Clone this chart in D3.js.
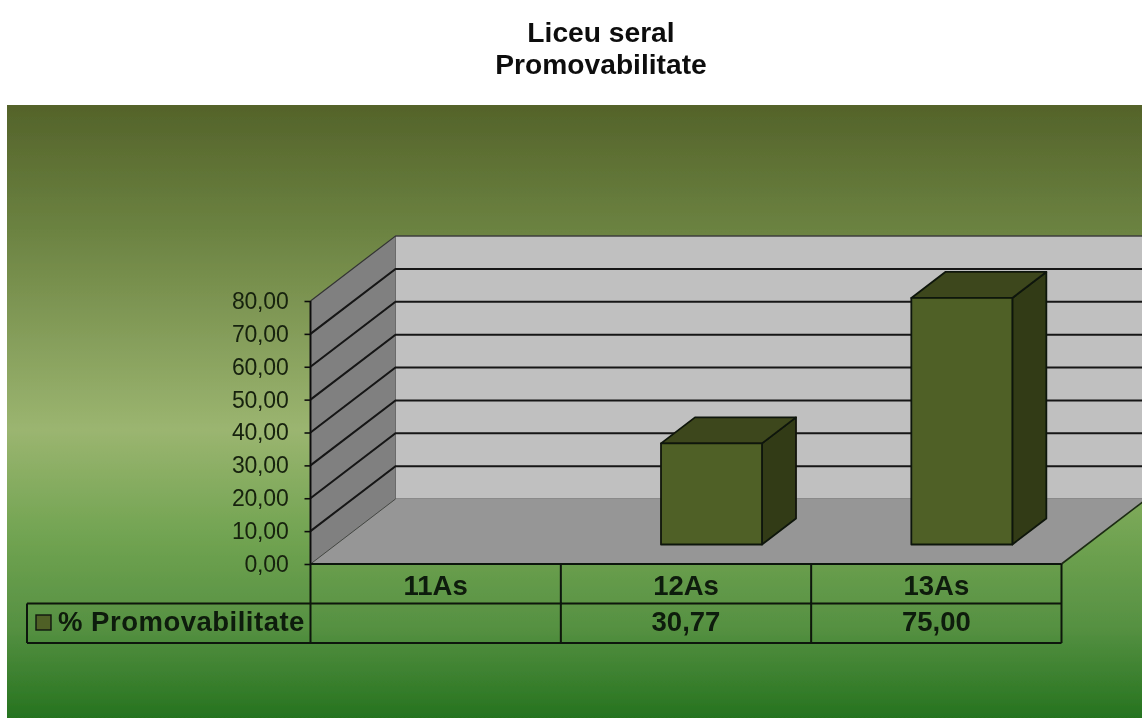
<!DOCTYPE html>
<html>
<head>
<meta charset="utf-8">
<script src="https://cdn.jsdelivr.net/npm/d3@7"></script>
<style>
  html, body { margin: 0; padding: 0; background: #fff; overflow: hidden; }
  svg { display: block; font-family: "Liberation Sans", Arial, sans-serif; }
</style>
</head>
<body>
<svg id="chart" width="1142" height="718"></svg>
<script>
const titleLines = ['Liceu seral', 'Promovabilitate'];
const categories = ['11As', '12As', '13As'];
const seriesName = '% Promovabilitate';
const values = [null, 30.77, 75.00];
const yTicks = [0, 10, 20, 30, 40, 50, 60, 70, 80];

const width = 1142, height = 718;
const svg = d3.select('#chart');

// soft blur, the reference is an upscaled screenshot
const defs = svg.append('defs');
defs.append('filter').attr('id', 'soft')
  .attr('x', 0).attr('y', 0).attr('width', 1).attr('height', 1)
  .attr('filterUnits', 'objectBoundingBox')
  .append('feGaussianBlur').attr('stdDeviation', 0.6);

const bg = defs.append('linearGradient').attr('id', 'bg')
  .attr('x1', 0).attr('y1', 0).attr('x2', 0).attr('y2', 1);
[[0, '#54632a'], [0.2, '#6b8241'], [0.53, '#9bb570'], [0.7, '#72a452'], [0.85, '#569142'], [1, '#26731f']]
  .forEach(s => bg.append('stop').attr('offset', s[0]).attr('stop-color', s[1]));

const root = svg.append('g').attr('filter', 'url(#soft)');
root.append('rect').attr('width', width).attr('height', height).attr('fill', '#fff');
root.append('rect').attr('x', 7).attr('y', 105).attr('width', width - 7).attr('height', height - 105).attr('fill', 'url(#bg)');

root.selectAll('.title').data(titleLines).join('text')
  .attr('class', 'title')
  .attr('x', 601)
  .attr('y', (d, i) => 42 + i * 32)
  .attr('text-anchor', 'middle')
  .attr('font-size', 28.2)
  .attr('font-weight', 'bold')
  .attr('fill', '#111')
  .text(d => d);

// front plane scales
const x = d3.scaleBand().domain(categories).range([310.5, 1061.5]);
const y = d3.scaleLinear().domain([0, 80]).range([564, 301]);

// 3d depth of the plot box
const depthX = 85, depthY = -65;
const barNear = 0.3, barFar = 0.7;
const barWidth = 101;
const [x0, x1] = x.range();
const wallRight = x1 + depthX;
const line = d3.line();

// back wall
root.append('path')
  .attr('d', line([[x0 + depthX, y(80) + depthY], [wallRight, y(80) + depthY], [wallRight, y(0) + depthY], [x0 + depthX, y(0) + depthY]]) + 'Z')
  .attr('fill', '#c0c0c0').attr('stroke', '#555').attr('stroke-width', 1);
// side wall
root.append('path')
  .attr('d', line([[x0, y(80)], [x0 + depthX, y(80) + depthY], [x0 + depthX, y(0) + depthY], [x0, y(0)]]) + 'Z')
  .attr('fill', '#808080');
// floor
root.append('path')
  .attr('d', line([[x0, y(0)], [x0 + depthX, y(0) + depthY], [wallRight, y(0) + depthY], [x1, y(0)]]) + 'Z')
  .attr('fill', '#969696');
root.append('path')
  .attr('d', line([[x0, y(0)], [x0 + depthX, y(0) + depthY]]))
  .attr('fill', 'none').attr('stroke', '#444').attr('stroke-width', 1);
root.append('path')
  .attr('d', line([[x1, y(0)], [wallRight, y(0) + depthY]]))
  .attr('fill', 'none').attr('stroke', '#1c2a12').attr('stroke-width', 1.6);

// grid lines
root.selectAll('.grid').data(yTicks.filter(d => d > 0)).join('path')
  .attr('class', 'grid')
  .attr('d', d => line([[x0, y(d)], [x0 + depthX, y(d) + depthY], [wallRight, y(d) + depthY]]))
  .attr('fill', 'none')
  .attr('stroke', d => d === 80 ? '#333' : '#151515')
  .attr('stroke-width', d => d === 80 ? 1.2 : 2);

// y axis
const comma = d3.formatLocale({ decimal: ',', thousands: '.', grouping: [3], currency: ['', ''] });
const yAxis = d3.axisLeft(y).tickValues(yTicks).tickSize(6).tickPadding(16)
  .tickFormat(comma.format('.2f'));
const axisG = root.append('g').attr('transform', `translate(${x0},0)`).call(yAxis);
axisG.select('.domain').attr('stroke', '#111').attr('stroke-width', 2).attr('d', `M0,${y(80)}V${y(0)}`);
axisG.selectAll('.tick line').attr('stroke', '#111').attr('stroke-width', 1.6);
axisG.selectAll('.tick text')
  .attr('font-family', '"Liberation Sans", Arial, sans-serif')
  .attr('font-size', 23)
  .attr('letter-spacing', -0.2)
  .attr('fill', '#16200e');

// bars
const barData = categories.map((c, i) => ({ c, v: values[i] })).filter(d => d.v !== null);
const bars = root.selectAll('.bar').data(barData).join('g').attr('class', 'bar');
const off = t => [depthX * t, depthY * t];
const barLeft = d => x(d.c) + x.bandwidth() / 2 - barWidth / 2 + off(barNear)[0];
const barBase = y(0) + off(barNear)[1];
const sideX = depthX * (barFar - barNear), sideY = depthY * (barFar - barNear);
const barTop = d => barBase - (y(0) - y(d.v));

bars.append('path') // side face
  .attr('d', d => line([
    [barLeft(d) + barWidth, barTop(d)],
    [barLeft(d) + barWidth + sideX, barTop(d) + sideY],
    [barLeft(d) + barWidth + sideX, barBase + sideY],
    [barLeft(d) + barWidth, barBase]]) + 'Z')
  .attr('fill', '#313b15');
bars.append('path') // top face
  .attr('d', d => line([
    [barLeft(d), barTop(d)],
    [barLeft(d) + sideX, barTop(d) + sideY],
    [barLeft(d) + barWidth + sideX, barTop(d) + sideY],
    [barLeft(d) + barWidth, barTop(d)]]) + 'Z')
  .attr('fill', '#3c461b');
bars.append('path') // front face
  .attr('d', d => line([
    [barLeft(d), barTop(d)],
    [barLeft(d) + barWidth, barTop(d)],
    [barLeft(d) + barWidth, barBase],
    [barLeft(d), barBase]]) + 'Z')
  .attr('fill', '#4f6027');
bars.selectAll('path')
  .attr('stroke', '#10160a').attr('stroke-width', 1.8).attr('stroke-linejoin', 'round');

// data table
const rowTop = y(0), rowMid = 603.5, rowBottom = 643, legendLeft = 27;
const tableLines = [
  [[x0, rowTop], [x1, rowTop]],
  [[legendLeft, rowMid], [x1, rowMid]],
  [[legendLeft, rowBottom], [x1, rowBottom]],
  [[legendLeft, rowMid], [legendLeft, rowBottom]],
  [[x0, rowTop], [x0, rowBottom]]
].concat(categories.map(c => [[x(c) + x.bandwidth(), rowTop], [x(c) + x.bandwidth(), rowBottom]]));
root.selectAll('.cell-line').data(tableLines).join('path')
  .attr('class', 'cell-line')
  .attr('d', d => line(d))
  .attr('fill', 'none').attr('stroke', '#0c1408').attr('stroke-width', 2);

root.selectAll('.cat').data(categories).join('text')
  .attr('class', 'cat')
  .attr('x', d => x(d) + x.bandwidth() / 2)
  .attr('y', 595)
  .attr('text-anchor', 'middle')
  .attr('font-size', 27.5)
  .attr('font-weight', 'bold')
  .attr('fill', '#101a0a')
  .text(d => d);

root.selectAll('.val').data(barData).join('text')
  .attr('class', 'val')
  .attr('x', d => x(d.c) + x.bandwidth() / 2)
  .attr('y', 631)
  .attr('text-anchor', 'middle')
  .attr('font-size', 27.5)
  .attr('font-weight', 'bold')
  .attr('fill', '#101a0a')
  .text(d => comma.format('.2f')(d.v));

root.append('rect')
  .attr('x', 36).attr('y', 615).attr('width', 15).attr('height', 15)
  .attr('fill', '#4f6027').attr('stroke', '#10160a').attr('stroke-width', 1.4);
root.append('text')
  .attr('x', 58).attr('y', 631)
  .attr('font-size', 27.5)
  .attr('font-weight', 'bold')
  .attr('letter-spacing', 0.5)
  .attr('fill', '#101a0a')
  .text(seriesName);
</script>
</body>
</html>
